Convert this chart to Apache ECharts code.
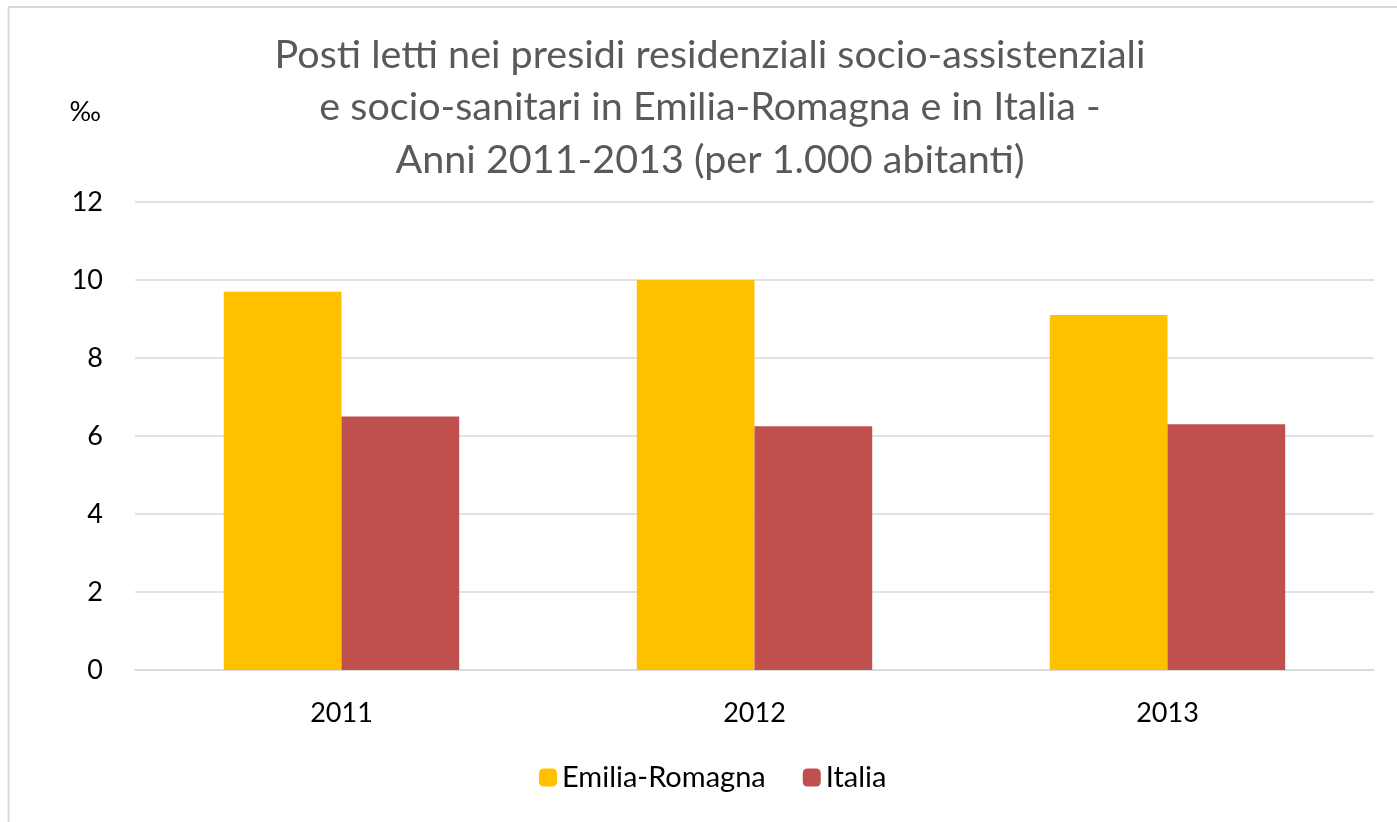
<!DOCTYPE html>
<html>
<head>
<meta charset="utf-8">
<script src="https://cdn.jsdelivr.net/npm/echarts@6/dist/echarts.min.js"></script>
<style>
  html, body { margin: 0; padding: 0; background: #fff; }
  #chart { width: 1397px; height: 822px; }
</style>
</head>
<body>
<div id="chart"></div>
<script>
// data
const years = ['2011', '2012', '2013']
const emiliaRomagna = [9.7, 10.0, 9.1]
const italia = [6.5, 6.25, 6.3]
const yTicks = { min: 0, max: 12, interval: 2 }

const chart = echarts.init(document.getElementById('chart'))
const font = 'Lato, "Noto Sans", sans-serif'

const options = {
    animation: false,
    textStyle: { fontFamily: font },
    title: {
        text: 'Posti letti nei presidi residenziali socio-assistenziali\ne socio-sanitari in Emilia-Romagna e in Italia -\nAnni 2011-2013 (per 1.000 abitanti)',
        left: 705,
        top: 24,
        textAlign: 'center',
        textStyle: {
            fontFamily: font,
            fontWeight: 'normal',
            fontSize: 39.5,
            lineHeight: 52.5,
            color: '#595959',
        },
    },
    legend: {
        top: 758,
        left: 534,
        itemWidth: 18,
        itemHeight: 18,
        itemGap: 37,
        textStyle: { fontSize: 29, color: '#000', fontFamily: font },
        data: ['Emilia-Romagna', 'Italia'],
    },
    grid: { left: 135, right: 23, top: 202, bottom: 152, containLabel: false },
    xAxis: {
        type: 'category',
        data: years,
        axisTick: { show: false },
        axisLine: { lineStyle: { color: '#d9d9d9', width: 1.5 } },
        axisLabel: { fontSize: 27, color: '#000', margin: 30, fontFamily: font },
    },
    yAxis: {
        type: 'value',
        min: yTicks.min,
        max: yTicks.max,
        interval: yTicks.interval,
        name: '‰',
        nameLocation: 'end',
        nameGap: 0,
        nameTextStyle: { fontSize: 27, color: '#000', align: 'right', padding: [0, 34, 76, 0], fontFamily: font },
        axisLine: { show: false },
        axisTick: { show: false },
        axisLabel: { fontSize: 27, color: '#000', margin: 32, fontFamily: font },
        splitLine: { lineStyle: { color: '#d9d9d9', width: 1.5 } },
    },
    graphic: [
        { type: 'line', shape: { x1: 8.5, y1: 7, x2: 8.5, y2: 822 }, style: { stroke: '#d9d9d9', lineWidth: 2 } },
        { type: 'line', shape: { x1: 8, y1: 7, x2: 1397, y2: 7 }, style: { stroke: '#d9d9d9', lineWidth: 2 } },
    ],
    series: [
        {
            name: 'Emilia-Romagna',
            type: 'bar',
            data: emiliaRomagna,
            barGap: '0%',
            barCategoryGap: '43%',
            itemStyle: { color: '#FFC000' },
        },
        {
            name: 'Italia',
            type: 'bar',
            data: italia,
            barGap: '0%',
            barCategoryGap: '43%',
            itemStyle: { color: '#C0504D' },
        },
    ],
}

chart.setOption(options)
</script>
</body>
</html>
